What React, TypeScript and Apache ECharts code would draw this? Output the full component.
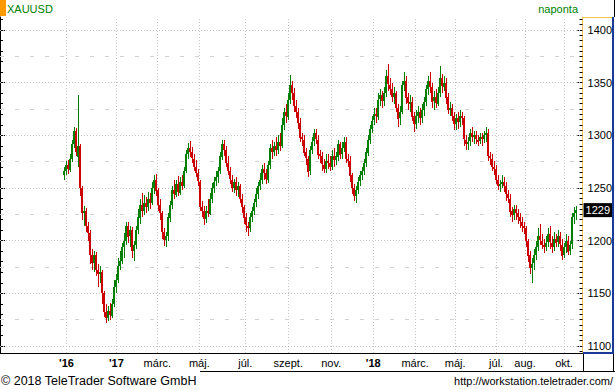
import React, { useEffect, useRef } from "react";
import * as echarts from "echarts";

const SYMBOL = "XAUUSD";
const PERIOD = "naponta";
const COPYRIGHT = "© 2018 TeleTrader Software GmbH";
const SOURCE_URL = "http://workstation.teletrader.com/";

// OHLC bars, each [open, close, low, high], about two trading days per bar
const bars2016: number[][] = [
  [1262, 1266, 1258, 1270], [1266, 1272, 1262, 1276], [1272, 1268, 1263, 1277], [1268, 1278, 1265, 1282],
  [1278, 1292, 1275, 1296], [1292, 1304, 1288, 1308], [1304, 1284, 1280, 1307], [1280, 1290, 1270, 1338],
  [1290, 1250, 1242, 1292], [1250, 1226, 1220, 1252], [1226, 1228, 1214, 1233], [1228, 1214, 1208, 1231],
  [1214, 1207, 1200, 1218], [1207, 1186, 1178, 1210], [1186, 1178, 1172, 1192], [1178, 1186, 1170, 1190],
  [1186, 1172, 1166, 1189], [1172, 1168, 1156, 1178], [1168, 1170, 1160, 1176], [1170, 1150, 1140, 1172],
  [1150, 1132, 1128, 1152], [1132, 1126, 1122, 1140], [1126, 1133, 1124, 1138], [1133, 1129, 1125, 1141],
  [1129, 1140, 1127, 1145], [1140, 1156, 1137, 1163],
];
const bars2017a: number[][] = [
  [1156, 1163, 1150, 1168], [1163, 1176, 1160, 1184], [1176, 1181, 1172, 1190], [1181, 1194, 1178, 1198],
  [1194, 1200, 1184, 1207], [1200, 1214, 1196, 1218], [1214, 1204, 1198, 1218], [1204, 1210, 1194, 1214],
  [1210, 1190, 1184, 1213], [1190, 1196, 1181, 1200], [1196, 1210, 1192, 1214], [1210, 1222, 1206, 1230],
  [1222, 1234, 1216, 1240], [1234, 1228, 1222, 1245], [1228, 1236, 1224, 1243], [1236, 1232, 1226, 1241],
  [1232, 1240, 1228, 1246], [1240, 1236, 1230, 1245], [1236, 1250, 1234, 1256], [1250, 1258, 1244, 1262],
  [1258, 1248, 1242, 1263], [1248, 1234, 1228, 1250], [1234, 1226, 1220, 1240], [1226, 1208, 1202, 1228],
  [1208, 1200, 1195, 1212], [1200, 1204, 1194, 1208],
];
const bars2017b: number[][] = [
  [1204, 1222, 1200, 1226], [1222, 1234, 1218, 1238], [1234, 1248, 1230, 1252], [1248, 1244, 1240, 1258],
  [1244, 1254, 1241, 1258], [1254, 1246, 1242, 1261], [1246, 1256, 1243, 1260], [1256, 1252, 1248, 1262],
  [1252, 1266, 1250, 1270], [1266, 1282, 1264, 1286], [1282, 1288, 1278, 1293], [1288, 1284, 1279, 1295],
  [1284, 1278, 1274, 1289], [1278, 1270, 1266, 1282], [1270, 1264, 1260, 1277], [1264, 1256, 1252, 1268],
  [1256, 1232, 1228, 1258], [1232, 1228, 1222, 1238], [1228, 1220, 1215, 1233], [1220, 1228, 1217, 1233],
  [1228, 1226, 1222, 1240], [1226, 1240, 1224, 1245], [1240, 1250, 1236, 1255], [1250, 1256, 1245, 1260],
  [1256, 1260, 1252, 1266], [1260, 1266, 1255, 1270], [1266, 1280, 1263, 1284],
];
const bars2017c: number[][] = [
  [1280, 1292, 1277, 1296], [1292, 1286, 1280, 1296], [1286, 1274, 1270, 1290], [1274, 1266, 1262, 1280],
  [1266, 1258, 1254, 1270], [1258, 1250, 1246, 1262], [1250, 1256, 1245, 1259], [1256, 1248, 1242, 1260],
  [1248, 1252, 1241, 1256], [1252, 1240, 1236, 1254], [1240, 1232, 1226, 1244], [1232, 1222, 1216, 1234],
  [1222, 1214, 1208, 1226], [1214, 1212, 1204, 1218], [1212, 1222, 1208, 1226], [1222, 1228, 1218, 1232],
  [1228, 1236, 1224, 1240], [1236, 1244, 1232, 1250], [1244, 1252, 1240, 1256], [1252, 1258, 1248, 1264],
  [1258, 1268, 1254, 1272], [1268, 1264, 1258, 1274], [1264, 1258, 1254, 1268], [1258, 1272, 1255, 1276],
  [1272, 1288, 1268, 1292],
];
const bars2017d: number[][] = [
  [1288, 1284, 1278, 1296], [1284, 1290, 1280, 1294], [1290, 1286, 1280, 1298], [1286, 1294, 1282, 1300],
  [1294, 1290, 1285, 1302], [1290, 1310, 1288, 1316], [1310, 1322, 1305, 1326], [1322, 1318, 1312, 1330],
  [1318, 1334, 1315, 1340], [1334, 1348, 1330, 1357], [1348, 1340, 1334, 1352], [1340, 1328, 1322, 1345],
  [1328, 1322, 1316, 1334], [1322, 1312, 1306, 1326], [1312, 1298, 1294, 1316], [1298, 1296, 1290, 1302],
  [1296, 1284, 1280, 1300], [1284, 1278, 1272, 1288], [1278, 1266, 1260, 1280], [1266, 1286, 1262, 1290],
  [1286, 1294, 1282, 1298], [1294, 1302, 1290, 1306], [1302, 1296, 1292, 1306], [1296, 1282, 1278, 1300],
  [1282, 1280, 1274, 1286],
];
const bars2017e: number[][] = [
  [1280, 1272, 1266, 1284], [1272, 1268, 1264, 1278], [1268, 1276, 1264, 1282], [1276, 1274, 1268, 1282],
  [1274, 1270, 1266, 1280], [1270, 1280, 1267, 1286], [1280, 1276, 1270, 1288], [1276, 1280, 1272, 1284],
  [1280, 1292, 1276, 1296], [1292, 1282, 1278, 1294], [1282, 1288, 1278, 1294], [1288, 1294, 1284, 1298],
  [1294, 1278, 1274, 1298], [1278, 1276, 1270, 1282], [1276, 1262, 1256, 1280], [1262, 1250, 1244, 1264],
  [1250, 1242, 1238, 1254], [1242, 1248, 1236, 1252], [1248, 1256, 1244, 1260], [1256, 1262, 1252, 1266],
  [1262, 1266, 1258, 1270], [1266, 1274, 1262, 1278], [1274, 1284, 1270, 1288], [1284, 1296, 1280, 1300],
  [1296, 1306, 1292, 1310],
];
const bars2018a: number[][] = [
  [1306, 1314, 1302, 1318], [1314, 1320, 1310, 1326], [1320, 1318, 1312, 1326], [1318, 1334, 1315, 1340],
  [1334, 1338, 1328, 1344], [1338, 1332, 1326, 1342], [1332, 1340, 1328, 1346], [1340, 1356, 1336, 1362],
  [1356, 1348, 1342, 1368], [1348, 1344, 1338, 1354], [1344, 1336, 1332, 1350], [1336, 1340, 1330, 1346],
  [1340, 1326, 1322, 1342], [1326, 1316, 1308, 1330], [1316, 1322, 1310, 1328], [1322, 1348, 1320, 1352],
  [1348, 1352, 1342, 1360], [1352, 1336, 1330, 1356], [1336, 1330, 1324, 1340], [1330, 1332, 1322, 1338],
  [1332, 1318, 1314, 1336], [1318, 1310, 1303, 1322], [1310, 1318, 1306, 1324], [1318, 1322, 1312, 1328],
  [1322, 1316, 1310, 1326],
];
const bars2018b: number[][] = [
  [1316, 1324, 1312, 1330], [1324, 1332, 1318, 1336], [1332, 1344, 1328, 1348], [1344, 1352, 1338, 1356],
  [1352, 1346, 1340, 1360], [1346, 1332, 1326, 1350], [1332, 1336, 1324, 1342], [1336, 1330, 1326, 1344],
  [1330, 1340, 1328, 1346], [1340, 1354, 1336, 1366], [1354, 1346, 1340, 1358], [1346, 1350, 1342, 1356],
  [1350, 1336, 1330, 1354], [1336, 1324, 1320, 1340], [1324, 1326, 1318, 1332], [1326, 1318, 1314, 1330],
  [1318, 1310, 1305, 1322], [1310, 1316, 1305, 1320], [1316, 1312, 1306, 1322], [1312, 1318, 1308, 1324],
  [1318, 1316, 1310, 1322], [1316, 1296, 1290, 1318], [1296, 1292, 1286, 1300], [1292, 1294, 1286, 1298],
  [1294, 1302, 1290, 1306],
];
const bars2018c: number[][] = [
  [1302, 1298, 1294, 1308], [1298, 1300, 1292, 1304], [1300, 1296, 1292, 1304], [1296, 1294, 1290, 1300],
  [1294, 1298, 1292, 1302], [1298, 1296, 1290, 1302], [1296, 1300, 1293, 1304], [1300, 1302, 1294, 1308],
  [1302, 1280, 1276, 1306], [1280, 1278, 1272, 1284], [1278, 1270, 1266, 1282], [1270, 1268, 1262, 1276],
  [1268, 1258, 1254, 1272], [1258, 1252, 1248, 1262], [1252, 1254, 1246, 1258], [1254, 1256, 1250, 1262],
  [1256, 1252, 1246, 1260], [1252, 1244, 1238, 1256], [1244, 1240, 1236, 1248], [1240, 1228, 1222, 1244],
  [1228, 1224, 1218, 1232], [1224, 1230, 1220, 1234], [1230, 1226, 1220, 1234], [1226, 1222, 1216, 1230],
  [1222, 1218, 1212, 1226],
];
const bars2018d: number[][] = [
  [1218, 1214, 1208, 1222], [1214, 1212, 1206, 1218], [1212, 1200, 1194, 1214], [1200, 1186, 1180, 1202],
  [1186, 1174, 1168, 1190], [1174, 1178, 1160, 1184], [1178, 1186, 1172, 1192], [1186, 1194, 1182, 1200],
  [1194, 1204, 1190, 1212], [1204, 1200, 1196, 1216], [1200, 1196, 1192, 1206], [1196, 1194, 1188, 1202],
  [1194, 1198, 1190, 1204], [1198, 1206, 1194, 1212], [1206, 1198, 1192, 1214], [1198, 1194, 1188, 1204],
  [1194, 1202, 1190, 1208], [1202, 1198, 1194, 1206], [1198, 1204, 1194, 1210], [1204, 1196, 1190, 1208],
  [1196, 1186, 1182, 1202], [1186, 1194, 1184, 1198], [1194, 1200, 1188, 1206], [1200, 1190, 1186, 1204],
  [1190, 1196, 1186, 1200], [1196, 1222, 1192, 1226], [1222, 1226, 1216, 1232], [1226, 1229, 1220, 1233],
];

// x-axis: month labels and their trading-day slot on the axis
const xTickLabels = ["'16", "'17", "márc.", "máj.", "júl.", "szept.", "nov.", "'18", "márc.", "máj.", "júl.", "aug.", "okt."];
const xTickSlots = [66, 116, 157, 199, 245, 288, 331, 373, 415, 455, 496, 525, 564];

// y-axis
const yLabels = [1100, 1150, 1200, 1250, 1300, 1350, 1400];
const yMidLines = [1125, 1175, 1225, 1275, 1325, 1375];
const Y_MIN = 1093.35;
const Y_MAX = 1412.34;

const SLOT_COUNT = 583;
const FIRST_SLOT = 64;
const SLOT_STEP = 2;

const UP_COLOR = "#008000";
const DOWN_COLOR = "#cc0000";
const FONT = '"Liberation Sans", Arial, sans-serif';

export default function App() {
  const ref = useRef<HTMLDivElement>(null);

  useEffect(() => {
    if (!ref.current) return;
    const chart = echarts.init(ref.current, null, { renderer: "svg" });

    const allBars = [
      ...bars2016, ...bars2017a, ...bars2017b, ...bars2017c, ...bars2017d,
      ...bars2017e, ...bars2018a, ...bars2018b, ...bars2018c, ...bars2018d,
    ];
    const seriesData = allBars.map((b, k) => [FIRST_SLOT + SLOT_STEP * k, b[0], b[1], b[2], b[3]]);
    const lastClose = allBars[allBars.length - 1][1];

    const categories = Array.from({ length: SLOT_COUNT }, (_, i) => String(i));
    const labelBySlot = new Map<number, string>();
    xTickSlots.forEach((s, i) => labelBySlot.set(s, xTickLabels[i]));

    const minorTicks5: number[] = [];
    for (let v = 1095; v <= 1410; v += 5) minorTicks5.push(v);
    const minorTicks10: number[] = [];
    for (let v = 1100; v <= 1410; v += 10) minorTicks10.push(v);

    const gridColor = "#c4c4c4";
    const markData: any[] = [
      ...yLabels.map((v) => ({ yAxis: v, lineStyle: { color: gridColor, type: [1, 2], width: 1 } })),
      ...yMidLines.map((v) => ({ yAxis: v, lineStyle: { color: "#d2d2d2", type: [4, 11], width: 1 } })),
      ...xTickSlots.map((s) => ({ xAxis: s, lineStyle: { color: gridColor, type: [1, 2], width: 1 } })),
    ];

    const commonY = { type: "value", min: Y_MIN, max: Y_MAX, splitLine: { show: false } };

    const renderCandle = (params: any, api: any) => {
      const slot = api.value(0);
      const o = api.value(1);
      const c = api.value(2);
      const l = api.value(3);
      const h = api.value(4);
      const pO = api.coord([slot, o]);
      const yC = api.coord([slot, c])[1];
      const yL = api.coord([slot, l])[1];
      const yH = api.coord([slot, h])[1];
      const color = c >= o ? UP_COLOR : DOWN_COLOR;
      const left = Math.floor(pO[0]) - 1;
      const top = Math.round(Math.min(pO[1], yC));
      const bodyH = Math.max(1, Math.round(Math.abs(pO[1] - yC)));
      const wTop = Math.round(yH);
      const wH = Math.max(1, Math.round(yL) - wTop);
      return {
        type: "group",
        children: [
          { type: "rect", shape: { x: left + 1, y: wTop, width: 1, height: wH }, style: { fill: color } },
          { type: "rect", shape: { x: left, y: top, width: 2, height: bodyH }, style: { fill: color } },
        ],
      };
    };

    const option: any = {
      animation: false,
      textStyle: { fontFamily: FONT },
      grid: { left: 0, right: 32, top: 17, bottom: 37, containLabel: false },
      xAxis: {
        type: "category",
        data: categories,
        boundaryGap: true,
        axisLine: { lineStyle: { color: "#000", width: 1 } },
        axisTick: {
          interval: (i: number) => labelBySlot.has(i),
          alignWithLabel: true,
          length: 3,
          lineStyle: { color: "#000" },
        },
        axisLabel: {
          interval: (i: number) => labelBySlot.has(i),
          formatter: (v: string) => {
            const t = labelBySlot.get(Number(v)) || "";
            return t.startsWith("'") ? `{b|${t}}` : t;
          },
          color: "#000",
          fontSize: 11,
          fontFamily: FONT,
          margin: 4,
          rich: { b: { fontWeight: "bold", fontSize: 11, color: "#000", fontFamily: FONT } },
        },
        splitLine: { show: false },
      },
      yAxis: [
        {
          ...commonY,
          position: "right",
          axisLine: { show: true, lineStyle: { color: "#f0c850", width: 1 } },
          axisTick: { show: true, inside: true, length: 5, customValues: yLabels, lineStyle: { color: "#000" } },
          axisLabel: {
            customValues: yLabels,
            formatter: (v: number) => String(v),
            color: "#000",
            fontSize: 11,
            fontFamily: FONT,
            margin: 5,
          },
        },
        {
          ...commonY,
          position: "right",
          axisLine: { show: false },
          axisTick: { show: true, inside: true, length: 3, customValues: minorTicks5, lineStyle: { color: "#000" } },
          axisLabel: { show: false },
        },
        {
          ...commonY,
          position: "right",
          axisLine: { show: false },
          axisTick: { show: false },
          axisLabel: {
            customValues: [lastClose],
            formatter: (v: number) => String(Math.round(v)),
            color: "#fff",
            backgroundColor: "#000",
            padding: [2, 2, 1, 2],
            fontSize: 11,
            fontFamily: FONT,
            margin: 1,
          },
        },
        {
          ...commonY,
          position: "left",
          axisLine: { show: true, lineStyle: { color: "#000", width: 1 } },
          axisTick: { show: true, inside: true, length: 3, customValues: minorTicks10, lineStyle: { color: "#000" } },
          axisLabel: { show: false },
        },
        {
          ...commonY,
          position: "left",
          axisLine: { show: false },
          axisTick: { show: true, inside: true, length: 5, customValues: yLabels, lineStyle: { color: "#000" } },
          axisLabel: { show: false },
        },
      ],
      series: [
        {
          type: "custom",
          name: SYMBOL,
          xAxisIndex: 0,
          yAxisIndex: 0,
          data: seriesData,
          encode: { x: 0, y: [1, 2, 3, 4] },
          renderItem: renderCandle,
          clip: true,
          z: 3,
          markLine: {
            silent: true,
            z: 1,
            symbol: ["none", "none"],
            label: { show: false },
            data: markData,
          },
        },
      ],
      graphic: [
        { type: "rect", shape: { x: 0, y: 0, width: 6, height: 16 }, style: { fill: "#ff9900" } },
        { type: "text", x: 7, y: 9, style: { text: SYMBOL, fill: "#008000", font: `11px ${FONT}`, verticalAlign: "middle" } },
        { type: "text", x: 578, y: 9, style: { text: PERIOD, fill: "#008000", font: `11px ${FONT}`, align: "right", verticalAlign: "middle" } },
        { type: "line", shape: { x1: 583, y1: 17.5, x2: 614, y2: 17.5 }, style: { stroke: "#f0c850", lineWidth: 1 } },
        { type: "line", shape: { x1: 613, y1: 17, x2: 613, y2: 354 }, style: { stroke: "#1a3a9a", lineWidth: 2 } },
        { type: "line", shape: { x1: 583, y1: 353, x2: 614, y2: 353 }, style: { stroke: "#1a3a9a", lineWidth: 2 } },
        { type: "line", shape: { x1: 614.5, y1: 0, x2: 614.5, y2: 17 }, style: { stroke: "#000", lineWidth: 1 } },
        { type: "line", shape: { x1: 583.5, y1: 354, x2: 583.5, y2: 372 }, style: { stroke: "#000", lineWidth: 1 } },
        { type: "line", shape: { x1: 613.5, y1: 354, x2: 613.5, y2: 372 }, style: { stroke: "#000", lineWidth: 1 } },
        { type: "line", shape: { x1: 200, y1: 371.5, x2: 615, y2: 371.5 }, style: { stroke: "#000", lineWidth: 1 } },
        { type: "text", x: 1, y: 381, style: { text: COPYRIGHT, fill: "#000", font: `12.5px ${FONT}`, verticalAlign: "middle" } },
        { type: "text", x: 613, y: 381, style: { text: SOURCE_URL, fill: "#000", font: `11px ${FONT}`, align: "right", verticalAlign: "middle" } },
      ],
    };

    chart.setOption(option);
    return () => chart.dispose();
  }, []);

  return (
    <div
      ref={ref}
      style={{ position: "fixed", left: 0, top: 0, width: 615, height: 390, background: "#fff" }}
    />
  );
}
